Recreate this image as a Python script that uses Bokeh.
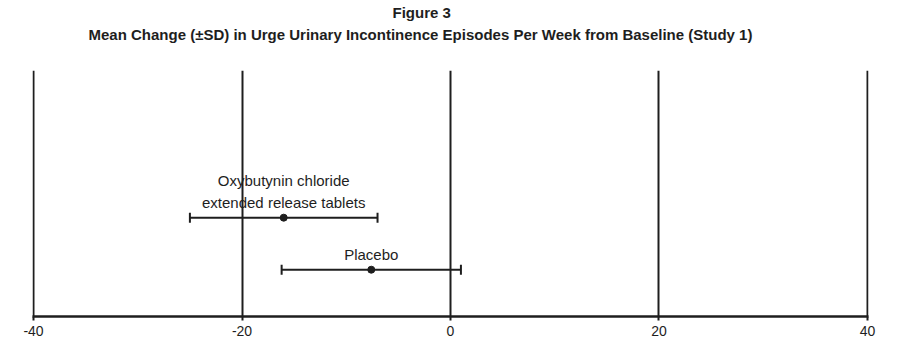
from bokeh.plotting import figure
from bokeh.models import Range1d, ColumnDataSource, Whisker, TeeHead, Title, FixedTicker
from bokeh.core.properties import value
from bokeh.embed import file_html
from bokeh.resources import INLINE

groups = ["Oxybutynin chloride\nextended release tablets", "Placebo"]
row_pos = [2, 1]
means = [-16.0, -7.6]
sd = [9.0, 8.6]
x_ticks = [-40, -20, 0, 20, 40]

lower = [m - s for m, s in zip(means, sd)]
upper = [m + s for m, s in zip(means, sd)]
src = ColumnDataSource(dict(y=row_pos, mean=means, lo=lower, hi=upper, label=groups))

INK = "#1e1e1e"
p = figure(width=900, height=338, output_backend="svg", toolbar_location=None,
           x_range=Range1d(-40.1, 40.1), y_range=Range1d(0.1, 4.83),
           min_border_left=32, min_border_right=32, min_border_top=0, min_border_bottom=0)
p.outline_line_color = None
p.background_fill_color = "white"
p.border_fill_color = "white"

p.yaxis.visible = False
p.ygrid.visible = False
p.xaxis.ticker = FixedTicker(ticks=x_ticks)
p.xaxis.major_label_overrides = {t: str(t) for t in x_ticks}
p.xaxis.minor_tick_line_color = None
p.xaxis.axis_line_color = INK
p.xaxis.axis_line_width = 2.5
p.xaxis.major_tick_line_color = INK
p.xaxis.major_tick_line_width = 2
p.xaxis.major_tick_out = 4
p.xaxis.major_tick_in = 0
p.xaxis.major_label_standoff = 5
p.xaxis.major_label_text_font = "Liberation Sans"
p.xaxis.major_label_text_font_size = "14px"
p.xaxis.major_label_text_color = INK
p.xgrid.ticker = FixedTicker(ticks=x_ticks)
p.xgrid.grid_line_color = INK
p.xgrid.grid_line_width = 2

w = Whisker(source=src, base="y", lower="lo", upper="hi", dimension="width",
            line_color=INK, line_width=2,
            lower_head=TeeHead(size=10, line_color=INK, line_width=2),
            upper_head=TeeHead(size=10, line_color=INK, line_width=2))
p.add_layout(w)
p.scatter(x="mean", y="y", source=src, size=7, color=INK)
p.text(x="mean", y="y", text="label", source=src, text_align="center",
       text_baseline="bottom", y_offset=-7, text_font=value("Liberation Sans"),
       text_font_size="15px", text_color=INK, text_line_height=1.25)

spacer = Title(text=" ", align="left", text_font_size="14px", standoff=9)
sub = Title(text="Mean Change (\u00b1SD) in Urge Urinary Incontinence Episodes Per Week from Baseline (Study 1)",
            align="left", offset=56, text_font="Liberation Sans", text_font_style="bold",
            text_font_size="15px", text_color=INK, standoff=2)
main = Title(text="Figure 3", align="left", offset=360, text_font="Liberation Sans",
             text_font_style="bold", text_font_size="15px", text_color=INK, standoff=3)
p.add_layout(spacer, "above")
p.add_layout(sub, "above")
p.add_layout(main, "above")

open("out.html", "w").write(file_html(p, INLINE))
